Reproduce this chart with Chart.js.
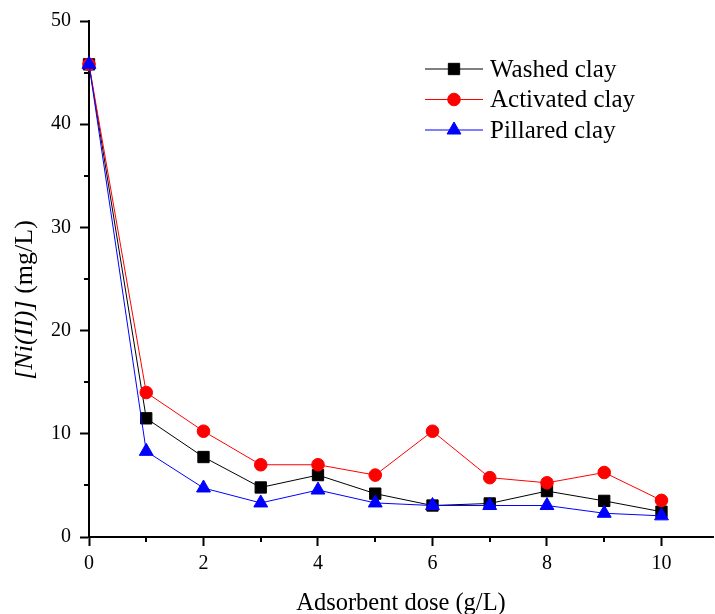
<!DOCTYPE html>
<html>
<head>
<meta charset="utf-8">
<script src="https://cdn.jsdelivr.net/npm/chart.js@4.4.1/dist/chart.umd.min.js"></script>
<style>
  body { margin: 0; background: #fff; }
  #wrap { width: 715px; height: 614px; }
</style>
</head>
<body>
<div id="wrap"><canvas id="doseChart" width="715" height="614"></canvas></div>
<script>
// dose values (g/L)
const doses = [0, 1, 2, 3, 4, 5, 6, 7, 8, 9, 10];

// residual Ni(II) concentration (mg/L)
const washed    = [45.8, 11.5, 7.75, 4.8, 6.0, 4.2, 3.05, 3.25, 4.45, 3.5, 2.45];
const activated = [45.8, 14.0, 10.25, 7.0, 7.0, 6.0, 10.25, 5.75, 5.25, 6.25, 3.55];
const pillared  = [45.8, 8.3, 4.75, 3.3, 4.55, 3.3, 3.05, 3.05, 3.05, 2.3, 2.05];

const xTicks = [0, 2, 4, 6, 8, 10];
const xMinor = [1, 3, 5, 7, 9];
const yTicks = [0, 10, 20, 30, 40, 50];
const yMinor = [5, 15, 25, 35, 45];

const serif = "'Liberation Serif', 'Times New Roman', serif";

const series = [
    { label: 'Washed clay', data: washed, color: '#000000', style: 'rect', radius: 8, order: 2 },
    { label: 'Activated clay', data: activated, color: '#ff0000', style: 'circle', radius: 6.3, order: 1 },
    { label: 'Pillared clay', data: pillared, color: '#0000ff', style: 'triangle', radius: 8, order: 0 }
];

// don't let the marker size shrink the plot area
Chart.LineController.prototype.getMaxOverflow = function () { return 0; };

// minor ticks, y title with italic part, legend inside plot
const extras = {
    id: 'extras',
    afterDraw(chart) {
        const c = chart.ctx;
        const xs = chart.scales.x, ys = chart.scales.y;
        c.save();
        c.strokeStyle = '#000';
        c.lineWidth = 2;
        xMinor.forEach(v => {
            const px = Math.round(xs.getPixelForValue(v));
            c.beginPath(); c.moveTo(px, xs.top); c.lineTo(px, xs.top + 5); c.stroke();
        });
        yMinor.forEach(v => {
            const py = Math.round(ys.getPixelForValue(v));
            c.beginPath(); c.moveTo(ys.right, py); c.lineTo(ys.right - 5, py); c.stroke();
        });

        // y axis title
        c.translate(25, 300);
        c.rotate(-Math.PI / 2);
        c.fillStyle = '#000';
        c.textBaseline = 'middle';
        const partA = '[Ni(II)]', partB = ' (mg/L)';
        c.font = 'italic 26px ' + serif;
        const wA = c.measureText(partA).width;
        c.font = '26px ' + serif;
        const wB = c.measureText(partB).width;
        let x0 = -(wA + wB) / 2;
        c.font = 'italic 26px ' + serif;
        c.fillText(partA, x0, 0);
        c.font = '26px ' + serif;
        c.fillText(partB, x0 + wA, 0);
        c.restore();

        // legend
        c.save();
        c.font = '25px ' + serif;
        c.textBaseline = 'middle';
        series.forEach((s, i) => {
            const y = 69 + i * 30.5;
            c.strokeStyle = s.color;
            c.lineWidth = 1;
            c.beginPath(); c.moveTo(425, y); c.lineTo(483, y); c.stroke();
            c.fillStyle = s.color;
            Chart.helpers.drawPoint(c, {
                pointStyle: s.style, radius: s.radius, rotation: 0, borderWidth: 1
            }, 454, y);
            c.fillStyle = '#000';
            c.fillText(s.label, 490, y + 1);
        });
        c.restore();
    }
};

const ctx = document.getElementById('doseChart').getContext('2d');

const chart = new Chart(ctx, {
    type: 'line',
    data: {
        datasets: series.map(s => ({
            label: s.label,
            data: doses.map((d, i) => ({ x: d, y: s.data[i] })),
            borderColor: s.color,
            backgroundColor: s.color,
            borderWidth: 1,
            pointStyle: s.style,
            pointRadius: s.radius,
            pointBorderWidth: 1,
            order: s.order,
            clip: false,
            tension: 0
        }))
    },
    options: {
        responsive: false,
        animation: false,
        layout: { padding: { top: 19, right: 2, left: 0, bottom: 0 } },
        plugins: {
            legend: { display: false },
            tooltip: { enabled: false }
        },
        scales: {
            x: {
                type: 'linear',
                min: 0,
                max: 10.9,
                afterBuildTicks: s => { s.ticks = xTicks.map(v => ({ value: v })); },
                afterFit: s => { s.height = 77; },
                border: { color: '#000', width: 2 },
                grid: { drawOnChartArea: false, tickLength: 9, tickWidth: 2, tickColor: '#000' },
                ticks: {
                    color: '#000',
                    padding: 6,
                    font: { family: serif, size: 20 }
                },
                title: {
                    display: true,
                    text: 'Adsorbent dose (g/L)',
                    color: '#000',
                    padding: { top: 0, bottom: -4 },
                    font: { family: serif, size: 24.5 }
                }
            },
            y: {
                min: 0,
                max: 50,
                afterBuildTicks: s => { s.ticks = yTicks.map(v => ({ value: v })); },
                afterFit: s => { s.width = 89; },
                border: { color: '#000', width: 2 },
                grid: { drawOnChartArea: false, tickLength: 9, tickWidth: 2, tickColor: '#000' },
                ticks: {
                    color: '#000',
                    padding: 9,
                    font: { family: serif, size: 20 }
                }
            }
        }
    },
    plugins: [extras]
});
</script>
</body>
</html>
